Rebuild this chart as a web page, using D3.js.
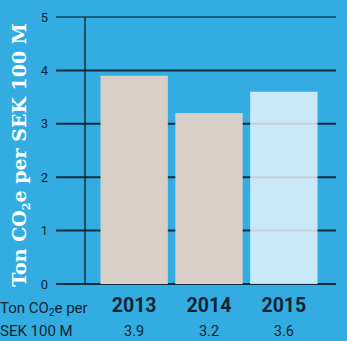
<!DOCTYPE html>
<html>
<head>
<meta charset="utf-8">
<script src="https://cdn.jsdelivr.net/npm/d3@7/dist/d3.min.js"></script>
<style>
  html, body { margin: 0; padding: 0; background: #33ade1; }
  svg { display: block; }
</style>
</head>
<body>
<svg id="chart" width="347" height="341"></svg>
<script>
const years = ["2013", "2014", "2015"];
const values = [3.9, 3.2, 3.6];
const barColors = ["#d8d0c8", "#d8d0c8", "rgba(235,246,252,0.82)"];
const yTicks = [0, 1, 2, 3, 4, 5];
const rowLabelLines = ["Ton CO₂e per", "SEK 100 M"];

const svg = d3.select("#chart");
const W = 347, H = 341;

svg.append("rect").attr("width", W).attr("height", H).attr("fill", "#33ade1");

const y = d3.scaleLinear().domain([0, 5]).range([284, 17]);
const x = d3.scaleBand().domain(years).range([96, 322]).paddingInner(0.1).paddingOuter(0.06);

// horizontal grid lines
const grid = svg.append("g");
grid.selectAll("line").data(yTicks).join("line")
  .attr("x1", 56).attr("x2", 336)
  .attr("y1", d => y(d)).attr("y2", d => y(d))
  .attr("stroke", d => d === 5 ? "#1b5d78" : "#0f2c3c")
  .attr("stroke-width", 2);

// vertical axis line
svg.append("line")
  .attr("x1", 85).attr("x2", 85)
  .attr("y1", y(5)).attr("y2", y(0))
  .attr("stroke", "#0f2c3c").attr("stroke-width", 1.5);

// tick labels
const axis = d3.axisLeft(y).tickValues(yTicks).tickFormat(d3.format("d")).tickSize(0).tickPadding(0);
const ag = svg.append("g").attr("transform", "translate(48,0)").call(axis);
ag.select(".domain").remove();
ag.selectAll("text")
  .attr("font-family", "Roboto, sans-serif")
  .attr("font-size", 13)
  .attr("fill", "#0f2433");

// bars
svg.append("g").selectAll("rect").data(values).join("rect")
  .attr("x", (d, i) => x(years[i]))
  .attr("width", x.bandwidth())
  .attr("y", d => y(d))
  .attr("height", d => y(0) - y(d))
  .attr("fill", (d, i) => barColors[i]);

// vertical axis title
const title = svg.append("text")
  .attr("transform", "translate(26,155) rotate(-90)")
  .attr("text-anchor", "middle")
  .attr("font-family", "'DejaVu Serif', 'Liberation Serif', serif")
  .attr("font-weight", "bold")
  .attr("font-size", 19)
  .attr("fill", "#ffffff");
title.append("tspan").text("Ton CO");
title.append("tspan").attr("font-size", 11).attr("dy", 4).text("2");
title.append("tspan").attr("dy", -4).text("e per SEK 100 M");

// row label
const rl = svg.append("g")
  .attr("font-family", "Roboto, sans-serif")
  .attr("font-size", 15)
  .attr("fill", "#0f2433");
const t1 = rl.append("text").attr("x", 0).attr("y", 313);
t1.append("tspan").text("Ton CO");
t1.append("tspan").attr("font-size", 10).attr("dy", 3).text("2");
t1.append("tspan").attr("dy", -3).text("e per");
rl.append("text").attr("x", 0).attr("y", 336).text(rowLabelLines[1]);

// year labels
svg.append("g").selectAll("text").data(years).join("text")
  .attr("x", d => x(d) + x.bandwidth() / 2)
  .attr("y", 312)
  .attr("text-anchor", "middle")
  .attr("font-family", "Roboto, sans-serif")
  .attr("font-weight", "bold")
  .attr("font-size", 19.5)
  .attr("fill", "#0f2433")
  .text(d => d);

// value labels
svg.append("g").selectAll("text").data(values).join("text")
  .attr("x", (d, i) => x(years[i]) + x.bandwidth() / 2)
  .attr("y", 336)
  .attr("text-anchor", "middle")
  .attr("font-family", "Roboto, sans-serif")
  .attr("font-size", 14.5)
  .attr("fill", "#0f2433")
  .text(d => d.toFixed(1));
</script>
</body>
</html>
